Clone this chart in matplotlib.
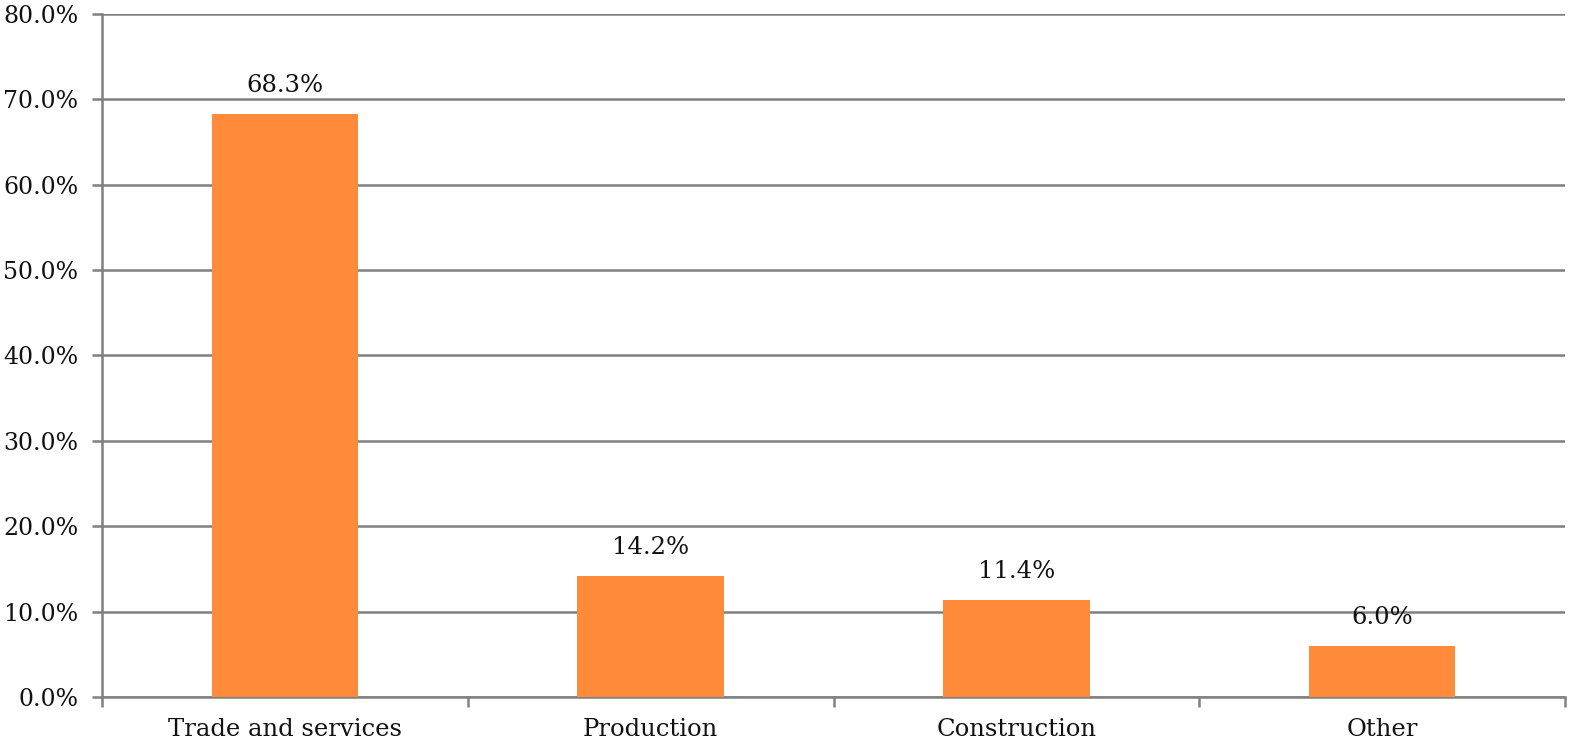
import matplotlib
matplotlib.use("Agg")
import matplotlib.pyplot as plt
from matplotlib.ticker import FuncFormatter

categories = ["Trade and services", "Production", "Construction", "Other"]
values = [68.3, 14.2, 11.4, 6.0]
yticks = [0, 10, 20, 30, 40, 50, 60, 70, 80]

plt.rcParams['font.family'] = ['DejaVu Serif']
GRAY = '#808080'
ORANGE = '#FF8A3A'
FS = 17.5

fig = plt.figure(figsize=(15.75, 7.49), dpi=100)
ax = fig.add_axes([102/1575, 1 - 697/749, (1565-102)/1575, (697-14)/749])

x = list(range(len(categories)))
ax.bar(x, values, width=0.4, color=ORANGE, zorder=3)
for xi, v in zip(x, values):
    ax.annotate(f"{v:.1f}%", (xi, v), xytext=(0, 12), textcoords='offset points',
                ha='center', va='bottom', fontsize=FS, color='#111111', zorder=4)

ax.set_xlim(-0.5, len(categories) - 0.5)
ax.set_ylim(0, 80)
ax.set_yticks(yticks)
ax.yaxis.set_major_formatter(FuncFormatter(lambda v, p: f"{v:.1f}%"))
ax.set_xticks(x)
ax.set_xticklabels(categories)
ax.set_xticks([i - 0.5 for i in range(len(categories) + 1)], minor=True)
ax.tick_params(axis='x', which='major', length=0, pad=15, labelsize=FS, labelcolor='#111111')
ax.tick_params(axis='x', which='minor', length=7, width=1.8, color=GRAY)
ax.tick_params(axis='y', length=7, width=1.8, color=GRAY, pad=10, labelsize=17, labelcolor='#111111')

ax.grid(axis='y', color=GRAY, linewidth=1.8, zorder=1)
ax.set_axisbelow(True)
for s in ['top', 'right']:
    ax.spines[s].set_visible(False)
for s in ['left', 'bottom']:
    ax.spines[s].set_color(GRAY)
    ax.spines[s].set_linewidth(1.8)

fig.savefig("out.png", dpi=100)
